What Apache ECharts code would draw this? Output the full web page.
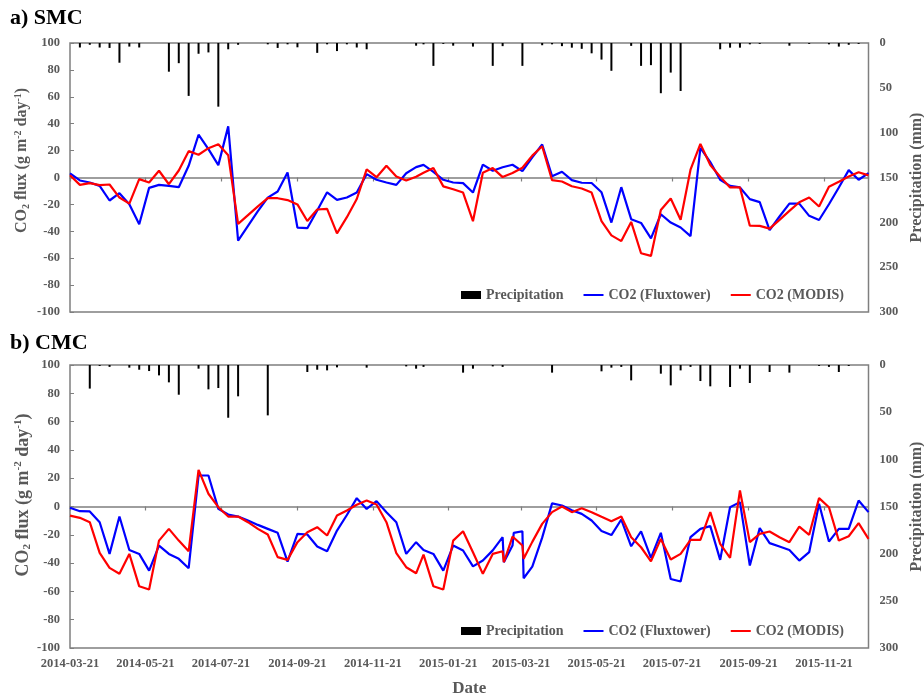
<!DOCTYPE html>
<html>
<head>
<meta charset="utf-8">
<title>CO2 flux SMC / CMC</title>
<script src="https://cdn.jsdelivr.net/npm/echarts@6.0.0/dist/echarts.min.js"></script>
<style>
  html, body { margin: 0; padding: 0; background: #fff; }
  #main { width: 924px; height: 696px; }
</style>
</head>
<body>
<div id="main"></div>
<script>
// 8-day composites: 2014 starts on 03-21, 2015 restarts on 01-01
const compositeStarts = ['2014-03-21', '2015-01-01'];
const compositeCounts = [36, 46];
// the CMC file has three doubled dates in March 2015
const cmcExtraDates = ['2015-03-07', '2015-03-15', '2015-03-23'];

const tickLabels = ['2014-03-21', '2014-05-21', '2014-07-21', '2014-09-21', '2014-11-21', '2015-01-21',
  '2015-03-21', '2015-05-21', '2015-07-21', '2015-09-21', '2015-11-21'];

// a) SMC
const smcFlux = [3, -2.2, -3.7, -6.2, -17.1, -11.7, -19.9, -34.7, -7.7, -5.5,
  -6.2, -7.2, 8.7, 31.8, 21.1, 9.2, 38, -47, -36, -25,
  -15, -10.4, 3.7, -37.2, -37.7, -24.5, -11, -16.6, -14.9, -11.2,
  2.5, -1.7, -3.7, -5.5, 3.2, 7.7, 9.4, 4.2, -1.7, -3.7,
  -4.2, -11.2, 9.6, 5, 7.6, 9.5, 4.7, 15, 24.5, 1,
  4.3, -2, -3.9, -4.1, -11, -33.5, -7.2, -31, -33.8, -45.2,
  -27.3, -33.5, -37.2, -43.6, 22, 11.5, -1.7, -6.2, -7.4, -16.1,
  -18.3, -39.2, -29, -19.4, -19.4, -28.5, -31.6, -19.9, -7.4, 5.5,
  -1.7, 3.2];
const smcModis = [1.7, -5.5, -4.2, -5.7, -5.2, -14.9, -19.4, -1.2, -3.7, 5,
  -5, 5.2, 19.6, 16.9, 21.8, 24.8, 16.6, -34.5, -28, -21.5,
  -15.4, -15.4, -16.8, -20, -32.3, -23.8, -23.3, -41.5, -29.5, -16,
  6, 0.2, 8.8, 0.7, -2.3, 0.6, 3.5, 7, -6.6, -8.7,
  -11.2, -32.5, 3.5, 7, 0.3, 3.3, 7.2, 16.3, 23.2, -2,
  -3, -6.5, -8.2, -11.2, -32.5, -43, -47.3, -33, -56.3, -58.3,
  -24.2, -15.6, -31.4, 5.8, 25, 9.3, 0.6, -7.4, -7.4, -35.8,
  -36, -38, -31.5, -24.8, -18.4, -14.9, -21.6, -6.8, -3.2, 0.7,
  3.9, 1.6];
const smcRain = [0, 5, 2, 5, 5.5, 22, 4, 5, 0, 0,
  32, 22.5, 59, 12, 10.5, 71, 7, 2, 0, 0,
  1.5, 5.5, 1.5, 4.8, 0, 11, 1.5, 9, 1.5, 5,
  7, 0, 0, 0, 0, 3, 1.5, 25.5, 1, 3,
  0, 4, 0, 25.5, 3.5, 0, 25.5, 0, 2.5, 1.5,
  3.5, 5.2, 6.5, 11.5, 18.5, 31, 0, 3.2, 25.5, 24.7,
  56, 33, 53.5, 0, 0, 0, 7, 5.2, 5.2, 1.5,
  1, 0, 0, 3, 0, 1, 0, 1.5, 4, 2,
  1, 0];

// b) CMC (flux arrays include the three doubled dates)
const cmcFlux = [-0.9, -3.3, -3.5, -11.1, -33.5, -7.1, -30.7, -33.5, -45.3, -27.6,
  -33.5, -37, -43.6, 21.9, 21.9, -1.7, -5.7, -7.1, -9.9, -13,
  -15.8, -18.6, -38.9, -19.3, -19.8, -28.3, -31.6, -17, -6, 5.9,
  -1.7, 3.8, -4, -11.1, -33.5, -25.2, -30.7, -33.5, -45.3, -27.6,
  -31.1, -42.3, -38.2, -31, -21.7, -39.4, -27.6, -18.6, -17.5, -50.7,
  -42.5, -22, 2.2, 0.7, -2.6, -5.2, -9.9, -17.3, -20.2, -9.2,
  -28.1, -17.5, -36.3, -18.6, -51.2, -53, -21.7, -15.8, -13.9, -37.7,
  -0.5, 3.1, -41.7, -15.3, -25.9, -28.3, -30.7, -38.2, -32.3, 1.9,
  -24.8, -15.8, -15.8, 4.2, -4];
const cmcModis = [-6.4, -8, -11.1, -32.8, -43.4, -47.5, -33.5, -56.4, -58.7, -24.1,
  -15.8, -24.1, -31.6, 25.9, 9, -0.5, -7.1, -7.1, -11.1, -15.8,
  -19.8, -35.8, -37.7, -25.2, -18.2, -14.6, -20.5, -6.4, -2.8, 1.2,
  4.2, 1.4, -11.1, -33, -42.9, -47.2, -34, -56.4, -58.7, -24.1,
  -17.5, -32.3, -47.6, -33.5, -31.6, -39.4, -21.2, -21.2, -27.6, -37,
  -25, -12.3, -4, 0, -4, -1.2, -4, -7.3, -10.5, -7.1,
  -21.7, -28.8, -38.7, -22.9, -37.5, -33.5, -23.6, -23.6, -4, -26.4,
  -36.3, 11.3, -25.2, -19.3, -17.7, -21.7, -25.2, -14.2, -20, 5.9,
  -0.5, -24.1, -21, -11.8, -22.9];
const cmcRain = [0, 0, 25, 1, 2, 0, 2.8, 5, 6.4, 11,
  18.4, 31.5, 0, 3.9, 25.8, 24.4, 55.9, 33.2, 0, 0,
  53.4, 0, 0, 0, 7.4, 5, 5.7, 2.5, 0, 0,
  2.8, 0, 0, 0, 1.5, 3.9, 2, 0, 0, 0,
  8.1, 3.9, 0, 1.5, 2, 0, 0, 0, 0, 8.1,
  0, 0, 0, 0, 6.7, 2.8, 2, 16.3, 0, 0,
  9.2, 21.6, 5.7, 2, 17, 22.6, 0, 23.3, 3.9, 19.1,
  0, 7.4, 0, 8.1, 0, 0, 1, 2, 7.4, 1,
  0, 0];

function toTime(s) {
  const p = s.split('-');
  return Date.UTC(+p[0], +p[1] - 1, +p[2]);
}
function fmtDate(v) {
  const d = new Date(v);
  return d.getUTCFullYear() + '-' + String(d.getUTCMonth() + 1).padStart(2, '0') + '-' + String(d.getUTCDate()).padStart(2, '0');
}
function pairs(dates, vals) {
  return vals.map(function (v, i) { return [dates[i], v]; });
}

const baseDates = [];
compositeStarts.forEach(function (s, k) {
  for (let i = 0; i < compositeCounts[k]; i++) baseDates.push(toTime(s) + i * 8 * 86400000);
});
const cmcDates = baseDates.concat(cmcExtraDates.map(toTime)).sort(function (a, b) { return a - b; });
const tickTimes = tickLabels.map(toTime);

const serif = "'Liberation Serif', 'Times New Roman', serif";
const textGrey = '#595959';
const lineGrey = '#7f7f7f';
const xMin = toTime('2014-03-21');
const xMax = toTime('2015-12-27');

// layout per panel (the lower panel's y title is drawn a bit larger in the original)
const panels = [
  { title: 'a) SMC', titleTop: 2, top: 43, height: 269, legendTop: 283, nameSize: 16, nameGap: 39, nameShift: 34,
    flux: smcFlux, modis: smcModis, rain: smcRain, dates: baseDates },
  { title: 'b) CMC', titleTop: 327, top: 365, height: 283, legendTop: 619, nameSize: 18, nameGap: 37, nameShift: 23,
    flux: cmcFlux, modis: cmcModis, rain: cmcRain, dates: cmcDates }
];

const boldText = { fontFamily: serif, fontWeight: 'bold', color: textGrey };
const option = {
  animation: false,
  backgroundColor: '#fff',
  title: [], grid: [], xAxis: [], yAxis: [], legend: [], series: []
};

panels.forEach(function (p, k) {
  option.title.push({
    text: p.title, left: 5, top: p.titleTop,
    textStyle: { fontFamily: serif, fontWeight: 'bold', fontSize: 22, color: '#000' }
  });
  option.grid.push({
    left: 70, top: p.top, width: 798.5, height: p.height,
    show: true, borderColor: lineGrey, borderWidth: 1.5, backgroundColor: 'transparent',
    outerBoundsMode: 'none'
  });

  // date labels at the bottom (only shown on the lower panel); x values are timestamps
  option.xAxis.push({
    gridIndex: k, type: 'value', min: xMin, max: xMax, position: 'bottom',
    axisLine: { show: false, onZero: false },
    axisTick: { show: false },
    splitLine: { show: false },
    axisLabel: Object.assign({ show: k === 1, customValues: tickTimes, formatter: fmtDate, margin: 9, fontSize: 12.5 }, boldText),
    name: k === 1 ? 'Date' : '',
    nameLocation: 'middle', nameGap: 32, nameMoveOverlap: false,
    nameTextStyle: Object.assign({ fontSize: 17 }, boldText)
  });
  // zero line with ticks
  option.xAxis.push({
    gridIndex: k, type: 'value', min: xMin, max: xMax, position: 'top',
    axisLine: { show: true, onZero: true, onZeroAxisIndex: 2 * k, lineStyle: { color: lineGrey, width: 1.5 } },
    axisTick: { show: true, inside: true, length: 4, customValues: tickTimes, lineStyle: { color: lineGrey, width: 1.2 } },
    axisLabel: { show: false, customValues: tickTimes },
    splitLine: { show: false }
  });

  const big = p.nameSize, small = Math.round(p.nameSize * 0.62);
  option.yAxis.push({
    gridIndex: k, type: 'value', position: 'left', min: -100, max: 100, interval: 20,
    axisLine: { show: false },
    axisTick: { show: true, inside: true, length: 4, lineStyle: { color: lineGrey } },
    splitLine: { show: false },
    axisLabel: Object.assign({ fontSize: 12.5, margin: 10 }, boldText),
    name: '{n|CO}{s|2}{n| flux (g m}{p|-2}{n| day}{p|-1}{n|)}',
    nameLocation: 'middle', nameRotate: 90, nameGap: p.nameGap, nameMoveOverlap: false,
    nameTextStyle: {
      padding: [0, 0, 0, p.nameShift],
      rich: {
        n: { fontFamily: serif, fontWeight: 'bold', fontSize: big, color: textGrey, lineHeight: big + 2 },
        s: { fontFamily: serif, fontWeight: 'bold', fontSize: small, color: textGrey, verticalAlign: 'bottom' },
        p: { fontFamily: serif, fontWeight: 'bold', fontSize: small, color: textGrey, verticalAlign: 'top' }
      }
    }
  });
  option.yAxis.push({
    gridIndex: k, type: 'value', position: 'right', min: 0, max: 300, interval: 50, inverse: true,
    axisLine: { show: false },
    axisTick: { show: false },
    splitLine: { show: false },
    axisLabel: Object.assign({ fontSize: 12.5, margin: 11 }, boldText),
    name: 'Precipitation (mm)',
    nameLocation: 'middle', nameRotate: 90, nameGap: 40, nameMoveOverlap: false,
    nameTextStyle: Object.assign({ fontSize: 16 }, boldText)
  });

  option.legend.push({
    left: 456, top: p.legendTop, itemWidth: 20, itemHeight: 8, itemGap: 20,
    selectedMode: false,
    textStyle: Object.assign({ fontSize: 14 }, boldText),
    data: [
      { name: 'Precipitation', icon: 'rect' },
      { name: 'CO2 (Fluxtower)', icon: 'path://M0,0M20,8M0,3H20V5H0Z', itemStyle: { borderWidth: 0 } },
      { name: 'CO2 (MODIS)', icon: 'path://M0,0M20,8M0,3H20V5H0Z', itemStyle: { borderWidth: 0 } }
    ]
  });

  option.series.push({
    name: 'Precipitation', type: 'bar', xAxisIndex: 2 * k, yAxisIndex: 2 * k + 1,
    barWidth: 2, itemStyle: { color: '#000' },
    data: pairs(baseDates, p.rain)
  });
  option.series.push({
    name: 'CO2 (Fluxtower)', type: 'line', xAxisIndex: 2 * k, yAxisIndex: 2 * k,
    symbol: 'none', color: '#0000ff', lineStyle: { color: '#0000ff', width: 2.2 },
    data: pairs(p.dates, p.flux)
  });
  option.series.push({
    name: 'CO2 (MODIS)', type: 'line', xAxisIndex: 2 * k, yAxisIndex: 2 * k,
    symbol: 'none', color: '#ff0000', lineStyle: { color: '#ff0000', width: 2.2 },
    data: pairs(p.dates, p.modis)
  });
});

const chart = echarts.init(document.getElementById('main'));
chart.setOption(option);
</script>
</body>
</html>
